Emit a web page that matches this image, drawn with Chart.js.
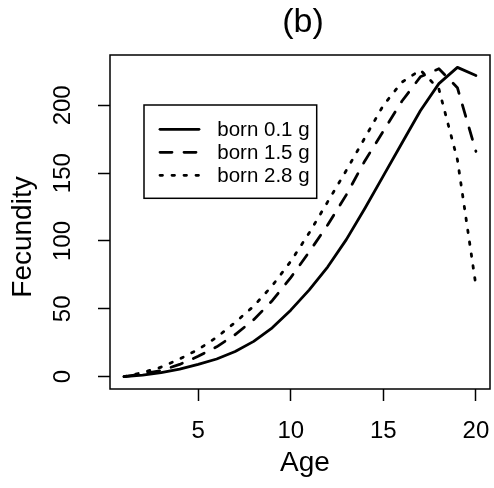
<!DOCTYPE html>
<html>
<head>
<meta charset="utf-8">
<script src="https://cdn.jsdelivr.net/npm/chart.js@4/dist/chart.umd.min.js"></script>
<style>
html,body{margin:0;padding:0;background:#fff;}
canvas{display:block;}
</style>
</head>
<body>
<canvas id="c" width="494" height="488"></canvas>
<script>
const ages = [1,2,3,4,5,6,7,8,9,10,11,12,13,14,15,16,17,18,19,20];
const born01 = [0,1.2,3,5.5,9,13,18.5,26,36,49,64,81,101,124,148,172,196,216,228,222];
const born15 = [0,2,4.5,9,15,22,31,42,56,73,92,112,134,159,181,203,221,227,213,166];
const born28 = [0,3,7,13,20,29,40,52,67,85,106,129,152,176,200,217,226,212,160,67];
const seriesLabels = ['born 0.1 g','born 1.5 g','born 2.8 g'];
const xTicks = [5,10,15,20];
const yTicks = [0,50,100,150,200];
const titleText = '(b)';
const xTitle = 'Age';
const yTitle = 'Fecundity';

const FONT = '"Liberation Sans", Arial, Helvetica, sans-serif';
const dashes = [[], [12,12], [2.5,9.5]];
const seriesData = [born01, born15, born28];

const datasets = seriesData.map((arr,i)=>({
  label: seriesLabels[i],
  data: ages.map((a,j)=>({x:a, y:arr[j]})),
  borderColor:'#000',
  backgroundColor:'#000',
  borderWidth:2.8,
  borderDash:dashes[i],
  borderCapStyle:'round',
  borderJoinStyle:'round',
  pointRadius:0,
  tension:0,
  fill:false
}));

const rPlugin = {
  id:'rstyle',
  afterDraw(chart){
    const {ctx, chartArea:a, scales} = chart;
    ctx.save();
    ctx.strokeStyle='#000';
    ctx.lineWidth=1.5;
    ctx.setLineDash([]);
    ctx.strokeRect(a.left, a.top, a.right-a.left, a.bottom-a.top);
    ctx.fillStyle='#000';
    ctx.font = '24px ' + FONT;
    // x tick labels
    ctx.textAlign='center'; ctx.textBaseline='alphabetic';
    xTicks.forEach(v=>{
      ctx.fillText(String(v), scales.x.getPixelForValue(v), a.bottom+49);
    });
    // y tick labels (rotated, R style)
    yTicks.forEach(v=>{
      const py = scales.y.getPixelForValue(v);
      ctx.save();
      ctx.translate(a.left-40, py);
      ctx.rotate(-Math.PI/2);
      ctx.fillText(String(v),0,0);
      ctx.restore();
    });
    // axis titles
    ctx.font = '28px ' + FONT;
    ctx.fillText(xTitle, (a.left+a.right)/2+5, 471);
    ctx.save();
    ctx.translate(31, (a.top+a.bottom)/2+15);
    ctx.rotate(-Math.PI/2);
    ctx.fillText(yTitle,0,0);
    ctx.restore();
    // main title
    ctx.font = '34px ' + FONT;
    ctx.fillText(titleText, (a.left+a.right)/2+3, 32);
    // legend
    const bx = a.left+34, by = a.top+50, bw = 172.7, bh = 93.3;
    ctx.lineWidth=1.5;
    ctx.strokeRect(bx, by, bw, bh);
    ctx.font = '20.5px ' + FONT;
    ctx.textAlign='left'; ctx.textBaseline='middle';
    chart.data.datasets.forEach((ds,i)=>{
      const yy = by + 24.3 + i*23;
      ctx.save();
      ctx.strokeStyle = ds.borderColor;
      ctx.lineWidth = ds.borderWidth;
      ctx.lineCap = 'round';
      ctx.setLineDash(ds.borderDash);
      ctx.beginPath();
      ctx.moveTo(bx+16, yy); ctx.lineTo(bx+55, yy);
      ctx.stroke();
      ctx.restore();
      ctx.fillText(ds.label, bx+73.3, yy+1);
    });
    ctx.restore();
  }
};

new Chart(document.getElementById('c'), {
  type:'line',
  data:{datasets},
  options:{
    responsive:false,
    animation:false,
    devicePixelRatio:1,
    layout:{padding:{left:0,top:55,right:4,bottom:0}},
    plugins:{legend:{display:false}, tooltip:{enabled:false}, title:{display:false}},
    scales:{
      x:{
        type:'linear', min:0.24, max:20.76,
        afterBuildTicks: s=>{ s.ticks = xTicks.map(v=>({value:v})); },
        afterFit: s=>{ s.height = 99; s.paddingLeft = 0; s.paddingRight = 0; },
        border:{display:false},
        grid:{drawOnChartArea:false, drawTicks:true, tickLength:12, tickColor:'#000', tickWidth:1.5},
        ticks:{display:false}
      },
      y:{
        type:'linear', min:-9.1, max:237.1,
        afterBuildTicks: s=>{ s.ticks = yTicks.map(v=>({value:v})); },
        afterFit: s=>{ s.width = 110; },
        border:{display:false},
        grid:{drawOnChartArea:false, drawTicks:true, tickLength:12, tickColor:'#000', tickWidth:1.5},
        ticks:{display:false}
      }
    }
  },
  plugins:[rPlugin]
});
</script>
</body>
</html>
